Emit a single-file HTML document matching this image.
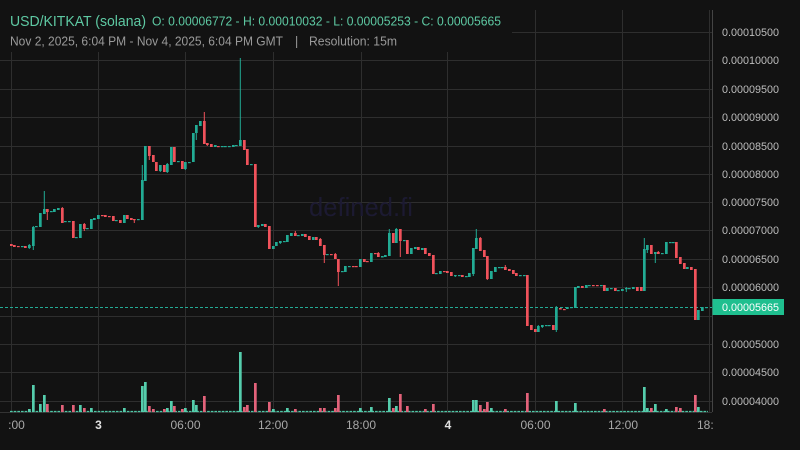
<!DOCTYPE html>
<html><head><meta charset="utf-8"><style>
html,body{margin:0;padding:0;background:#121212;}
svg{display:block;font-family:"Liberation Sans",sans-serif;}
</style></head><body>
<svg width="800" height="450" viewBox="0 0 800 450" xmlns="http://www.w3.org/2000/svg">
<rect width="800" height="450" fill="#121212"/>
<!-- grid -->
<g stroke="#2e2e2e" stroke-width="1">
<line x1="0" y1="32.5" x2="712" y2="32.5"/><line x1="0" y1="60.5" x2="712" y2="60.5"/><line x1="0" y1="89.5" x2="712" y2="89.5"/><line x1="0" y1="117.5" x2="712" y2="117.5"/><line x1="0" y1="146.5" x2="712" y2="146.5"/><line x1="0" y1="174.5" x2="712" y2="174.5"/><line x1="0" y1="202.5" x2="712" y2="202.5"/><line x1="0" y1="230.5" x2="712" y2="230.5"/><line x1="0" y1="259.5" x2="712" y2="259.5"/><line x1="0" y1="287.5" x2="712" y2="287.5"/><line x1="0" y1="316.5" x2="712" y2="316.5"/><line x1="0" y1="344.5" x2="712" y2="344.5"/><line x1="0" y1="372.5" x2="712" y2="372.5"/><line x1="0" y1="401.5" x2="712" y2="401.5"/>
<line x1="11.5" y1="10" x2="11.5" y2="412"/><line x1="98.5" y1="10" x2="98.5" y2="412"/><line x1="185.5" y1="10" x2="185.5" y2="412"/><line x1="273.5" y1="10" x2="273.5" y2="412"/><line x1="361.5" y1="10" x2="361.5" y2="412"/><line x1="447.5" y1="10" x2="447.5" y2="412"/><line x1="535.5" y1="10" x2="535.5" y2="412"/><line x1="622.5" y1="10" x2="622.5" y2="412"/><line x1="709.5" y1="10" x2="709.5" y2="412"/>
</g>
<line x1="0" y1="412.5" x2="712" y2="412.5" stroke="#333" stroke-width="1"/>
<line x1="712.5" y1="10" x2="712.5" y2="412" stroke="#444" stroke-width="1"/>
<!-- watermark -->
<text x="309" y="216" font-size="26" fill="#1c1a32" textLength="104" lengthAdjust="spacingAndGlyphs">defined.fi</text>
<!-- volume -->
<line x1="10" y1="411.5" x2="708" y2="411.5" stroke="#4fc7a6" stroke-width="1.2" stroke-dasharray="2.7,0.95"/>
<g fill="#55cdac">
<rect x="28" y="409" width="2.7" height="3"/><rect x="32" y="385" width="2.7" height="27"/><rect x="39" y="404" width="2.7" height="8"/><rect x="43" y="395" width="2.7" height="17"/><rect x="79" y="405" width="2.7" height="7"/><rect x="90" y="408" width="2.7" height="4"/><rect x="123" y="408" width="2.7" height="4"/><rect x="141" y="386" width="2.7" height="26"/><rect x="144" y="382" width="2.7" height="30"/><rect x="166" y="408" width="2.7" height="4"/><rect x="170" y="401" width="2.7" height="11"/><rect x="184" y="408" width="2.7" height="4"/><rect x="192" y="400" width="2.7" height="12"/><rect x="195" y="405" width="2.7" height="7"/><rect x="239" y="352" width="2.7" height="60"/><rect x="272" y="409" width="2.7" height="3"/><rect x="286" y="408" width="2.7" height="4"/><rect x="359" y="408" width="2.7" height="4"/><rect x="370" y="407" width="2.7" height="5"/><rect x="388" y="398" width="2.7" height="14"/><rect x="395" y="406" width="2.7" height="6"/><rect x="472" y="400" width="2.7" height="12"/><rect x="475" y="400" width="2.7" height="12"/><rect x="490" y="408" width="2.7" height="4"/><rect x="555" y="401" width="2.7" height="11"/><rect x="574" y="403" width="2.7" height="9"/><rect x="643" y="387" width="2.7" height="25"/><rect x="646" y="408" width="2.7" height="4"/><rect x="654" y="404" width="2.7" height="8"/><rect x="665" y="409" width="2.7" height="3"/><rect x="697" y="407" width="2.7" height="5"/>
</g>
<g fill="#e3627a">
<rect x="46" y="404" width="2.7" height="8"/><rect x="61" y="405" width="2.7" height="7"/><rect x="72" y="405" width="2.7" height="7"/><rect x="83" y="408" width="2.7" height="4"/><rect x="148" y="406" width="2.7" height="6"/><rect x="152" y="409" width="2.7" height="3"/><rect x="163" y="409" width="2.7" height="3"/><rect x="173" y="406" width="2.7" height="6"/><rect x="181" y="409" width="2.7" height="3"/><rect x="203" y="396" width="2.7" height="16"/><rect x="243" y="407" width="2.7" height="5"/><rect x="246" y="405" width="2.7" height="7"/><rect x="254" y="383" width="2.7" height="29"/><rect x="268" y="402" width="2.7" height="10"/><rect x="294" y="409" width="2.7" height="3"/><rect x="319" y="408" width="2.7" height="4"/><rect x="323" y="408" width="2.7" height="4"/><rect x="334" y="408" width="2.7" height="4"/><rect x="337" y="395" width="2.7" height="17"/><rect x="392" y="408" width="2.7" height="4"/><rect x="399" y="394" width="2.7" height="18"/><rect x="406" y="406" width="2.7" height="6"/><rect x="424" y="409" width="2.7" height="3"/><rect x="432" y="404" width="2.7" height="8"/><rect x="479" y="405" width="2.7" height="7"/><rect x="483" y="409" width="2.7" height="3"/><rect x="486" y="402" width="2.7" height="10"/><rect x="504" y="409" width="2.7" height="3"/><rect x="526" y="393" width="2.7" height="19"/><rect x="603" y="409" width="2.7" height="3"/><rect x="650" y="408" width="2.7" height="4"/><rect x="675" y="407" width="2.7" height="5"/><rect x="679" y="408" width="2.7" height="4"/><rect x="694" y="395" width="2.7" height="17"/>
</g>
<!-- current price line -->
<line x1="0" y1="307.5" x2="712" y2="307.5" stroke="#22ab94" stroke-width="1" stroke-dasharray="3,2"/>
<!-- wicks -->
<path stroke="#22ab94" stroke-width="1" fill="none" d="M29.3 244V249M33.3 226V250M44.3 191V214M142.3 165V220M160.3 165V172M167.3 163V173M185.3 162V170M196.3 125V140M240.3 58V146M258.3 225V228M280.3 241V244M389.3 229V256M396.3 228V243M455.3 275V277M473.3 248V276M476.3 229V249M538.3 325V332M542.3 325V328M556.3 306V332M626.3 287V292M644.3 238V291M647.3 245V253M655.3 252V263"/>
<path stroke="#f0525b" stroke-width="1" fill="none" d="M47.3 209V220M62.3 207V223M84.3 223V231M134.3 219V223M149.3 146V160M204.3 112V144M207.3 143V146M295.3 231V236M320.3 238V246M324.3 245V263M335.3 253V259M338.3 259V286M378.3 252V257M400.3 229V257M480.3 237V251M487.3 256V280M505.3 265V270M527.3 275V326M658.3 251V254"/>
<!-- teal bodies -->
<g fill="#22ab94">
<rect x="21" y="246" width="2.7" height="1.2"/><rect x="28" y="245" width="2.7" height="3"/><rect x="32" y="227" width="2.7" height="19"/><rect x="35" y="226" width="2.7" height="1.2"/><rect x="39" y="213" width="2.7" height="14"/><rect x="43" y="209" width="2.7" height="5"/><rect x="50" y="211" width="2.7" height="1.2"/><rect x="53" y="209" width="2.7" height="3"/><rect x="57" y="208" width="2.7" height="2"/><rect x="64" y="221" width="2.7" height="1.2"/><rect x="68" y="221" width="2.7" height="1.2"/><rect x="75" y="237" width="2.7" height="1.2"/><rect x="79" y="224" width="2.7" height="14"/><rect x="86" y="228" width="2.7" height="1.2"/><rect x="90" y="219" width="2.7" height="10"/><rect x="93" y="218" width="2.7" height="2"/><rect x="97" y="215" width="2.7" height="4"/><rect x="115" y="220" width="2.7" height="1.2"/><rect x="123" y="215" width="2.7" height="8"/><rect x="137" y="219" width="2.7" height="1.2"/><rect x="141" y="180" width="2.7" height="40"/><rect x="144" y="146" width="2.7" height="35"/><rect x="159" y="165" width="2.7" height="6"/><rect x="166" y="164" width="2.7" height="8"/><rect x="170" y="147" width="2.7" height="18"/><rect x="177" y="161" width="2.7" height="1.2"/><rect x="184" y="162" width="2.7" height="7"/><rect x="188" y="162" width="2.7" height="1.2"/><rect x="192" y="133" width="2.7" height="29"/><rect x="195" y="125" width="2.7" height="8"/><rect x="199" y="121" width="2.7" height="5"/><rect x="214" y="145" width="2.7" height="2"/><rect x="221" y="146" width="2.7" height="1.2"/><rect x="224" y="146" width="2.7" height="1.2"/><rect x="228" y="146" width="2.7" height="1.2"/><rect x="232" y="145" width="2.7" height="2"/><rect x="235" y="145" width="2.7" height="1.2"/><rect x="239" y="140" width="2.7" height="6"/><rect x="250" y="164" width="2.7" height="1.2"/><rect x="257" y="225" width="2.7" height="2"/><rect x="261" y="224" width="2.7" height="2"/><rect x="272" y="246" width="2.7" height="3"/><rect x="275" y="242" width="2.7" height="4"/><rect x="279" y="241" width="2.7" height="2"/><rect x="283" y="241" width="2.7" height="1.2"/><rect x="286" y="235" width="2.7" height="7"/><rect x="290" y="233" width="2.7" height="3"/><rect x="297" y="235" width="2.7" height="1.2"/><rect x="301" y="234" width="2.7" height="2"/><rect x="312" y="237" width="2.7" height="3"/><rect x="326" y="254" width="2.7" height="1.2"/><rect x="341" y="271" width="2.7" height="1.2"/><rect x="344" y="266" width="2.7" height="6"/><rect x="348" y="266" width="2.7" height="1.2"/><rect x="359" y="259" width="2.7" height="8"/><rect x="370" y="253" width="2.7" height="9"/><rect x="381" y="256" width="2.7" height="1.5"/><rect x="384" y="255" width="2.7" height="2"/><rect x="388" y="233" width="2.7" height="23"/><rect x="395" y="229" width="2.7" height="14"/><rect x="403" y="240" width="2.7" height="1.2"/><rect x="410" y="248" width="2.7" height="6"/><rect x="414" y="247" width="2.7" height="2"/><rect x="421" y="248" width="2.7" height="2"/><rect x="435" y="273" width="2.7" height="1.2"/><rect x="439" y="271" width="2.7" height="3"/><rect x="454" y="275" width="2.7" height="1.2"/><rect x="458" y="275" width="2.7" height="1.2"/><rect x="465" y="276" width="2.7" height="1.2"/><rect x="468" y="273" width="2.7" height="4"/><rect x="472" y="248" width="2.7" height="26"/><rect x="475" y="238" width="2.7" height="11"/><rect x="490" y="271" width="2.7" height="8"/><rect x="494" y="267" width="2.7" height="5"/><rect x="498" y="267" width="2.7" height="1.2"/><rect x="501" y="267" width="2.7" height="1.2"/><rect x="519" y="275" width="2.7" height="1.2"/><rect x="523" y="275" width="2.7" height="1.2"/><rect x="537" y="326" width="2.7" height="6"/><rect x="541" y="325" width="2.7" height="2"/><rect x="545" y="325" width="2.7" height="1.2"/><rect x="548" y="325" width="2.7" height="1.2"/><rect x="555" y="308" width="2.7" height="22"/><rect x="566" y="307" width="2.7" height="2"/><rect x="570" y="307" width="2.7" height="1.2"/><rect x="574" y="287" width="2.7" height="21"/><rect x="577" y="286" width="2.7" height="2"/><rect x="585" y="285" width="2.7" height="3"/><rect x="588" y="285" width="2.7" height="1.2"/><rect x="600" y="285" width="2.7" height="1.2"/><rect x="606" y="288" width="2.7" height="3"/><rect x="610" y="288" width="2.7" height="1.2"/><rect x="617" y="290" width="2.7" height="1.2"/><rect x="621" y="289" width="2.7" height="2"/><rect x="625" y="288" width="2.7" height="1.2"/><rect x="628" y="288" width="2.7" height="1.2"/><rect x="632" y="287" width="2.7" height="2"/><rect x="643" y="249" width="2.7" height="42"/><rect x="646" y="245" width="2.7" height="5"/><rect x="654" y="252" width="2.7" height="2"/><rect x="661" y="253" width="2.7" height="1.2"/><rect x="665" y="242" width="2.7" height="12"/><rect x="669" y="242" width="2.7" height="1.2"/><rect x="672" y="242" width="2.7" height="1.2"/><rect x="686" y="267" width="2.7" height="2"/><rect x="697" y="310" width="2.7" height="10"/><rect x="701" y="307" width="2.7" height="4"/><rect x="705" y="307" width="2.7" height="1.2"/>
</g>
<!-- red bodies -->
<g fill="#f0525b">
<rect x="10" y="244" width="2.7" height="2"/><rect x="13" y="245" width="2.7" height="2"/><rect x="17" y="246" width="2.7" height="1.2"/><rect x="24" y="246" width="2.7" height="2"/><rect x="46" y="209" width="2.7" height="3"/><rect x="61" y="208" width="2.7" height="15"/><rect x="72" y="221" width="2.7" height="17"/><rect x="83" y="224" width="2.7" height="5"/><rect x="101" y="215" width="2.7" height="1.2"/><rect x="104" y="215" width="2.7" height="2"/><rect x="108" y="216" width="2.7" height="1.2"/><rect x="112" y="216" width="2.7" height="5"/><rect x="119" y="220" width="2.7" height="3"/><rect x="126" y="215" width="2.7" height="4"/><rect x="130" y="218" width="2.7" height="2"/><rect x="133" y="219" width="2.7" height="1.2"/><rect x="148" y="146" width="2.7" height="10"/><rect x="152" y="155" width="2.7" height="7"/><rect x="155" y="162" width="2.7" height="9"/><rect x="163" y="165" width="2.7" height="7"/><rect x="173" y="147" width="2.7" height="15"/><rect x="181" y="161" width="2.7" height="8"/><rect x="203" y="121" width="2.7" height="23"/><rect x="206" y="143" width="2.7" height="2"/><rect x="210" y="144" width="2.7" height="3"/><rect x="217" y="146" width="2.7" height="1.2"/><rect x="243" y="140" width="2.7" height="10"/><rect x="246" y="149" width="2.7" height="16"/><rect x="254" y="164" width="2.7" height="63"/><rect x="264" y="224" width="2.7" height="3"/><rect x="268" y="226" width="2.7" height="23"/><rect x="294" y="233" width="2.7" height="3"/><rect x="304" y="234" width="2.7" height="3"/><rect x="308" y="236" width="2.7" height="4"/><rect x="315" y="237" width="2.7" height="3"/><rect x="319" y="239" width="2.7" height="7"/><rect x="323" y="245" width="2.7" height="10"/><rect x="330" y="254" width="2.7" height="1.2"/><rect x="334" y="254" width="2.7" height="5"/><rect x="337" y="259" width="2.7" height="13"/><rect x="352" y="266" width="2.7" height="1.2"/><rect x="355" y="266" width="2.7" height="1.2"/><rect x="363" y="259" width="2.7" height="3"/><rect x="366" y="261" width="2.7" height="1.2"/><rect x="374" y="253" width="2.7" height="1.2"/><rect x="377" y="253" width="2.7" height="4"/><rect x="392" y="233" width="2.7" height="10"/><rect x="399" y="229" width="2.7" height="12"/><rect x="406" y="240" width="2.7" height="14"/><rect x="417" y="247" width="2.7" height="3"/><rect x="424" y="248" width="2.7" height="6"/><rect x="428" y="253" width="2.7" height="3"/><rect x="432" y="255" width="2.7" height="19"/><rect x="443" y="271" width="2.7" height="1.2"/><rect x="446" y="271" width="2.7" height="2"/><rect x="450" y="272" width="2.7" height="4"/><rect x="461" y="275" width="2.7" height="2"/><rect x="479" y="238" width="2.7" height="13"/><rect x="483" y="250" width="2.7" height="7"/><rect x="486" y="256" width="2.7" height="23"/><rect x="504" y="267" width="2.7" height="3"/><rect x="508" y="269" width="2.7" height="2"/><rect x="512" y="270" width="2.7" height="4"/><rect x="515" y="273" width="2.7" height="3"/><rect x="526" y="275" width="2.7" height="51"/><rect x="530" y="325" width="2.7" height="5"/><rect x="534" y="329" width="2.7" height="3"/><rect x="552" y="325" width="2.7" height="5"/><rect x="559" y="308" width="2.7" height="1.5"/><rect x="563" y="309" width="2.7" height="1.2"/><rect x="581" y="286" width="2.7" height="2"/><rect x="592" y="285" width="2.7" height="1.2"/><rect x="596" y="285" width="2.7" height="1.2"/><rect x="603" y="285" width="2.7" height="6"/><rect x="614" y="288" width="2.7" height="3"/><rect x="636" y="287" width="2.7" height="4"/><rect x="640" y="287" width="2.7" height="4"/><rect x="650" y="245" width="2.7" height="9"/><rect x="657" y="252" width="2.7" height="2"/><rect x="675" y="242" width="2.7" height="16"/><rect x="679" y="257" width="2.7" height="7"/><rect x="683" y="263" width="2.7" height="6"/><rect x="690" y="267" width="2.7" height="3"/><rect x="694" y="269" width="2.7" height="51"/>
</g>
<!-- price axis labels -->
<g font-size="11" fill="#bdbdbd">
<text x="722" y="36" textLength="57" lengthAdjust="spacingAndGlyphs">0.00010500</text>
<text x="722" y="64" textLength="57" lengthAdjust="spacingAndGlyphs">0.00010000</text>
<text x="722" y="93" textLength="57" lengthAdjust="spacingAndGlyphs">0.00009500</text>
<text x="722" y="121" textLength="57" lengthAdjust="spacingAndGlyphs">0.00009000</text>
<text x="722" y="150" textLength="57" lengthAdjust="spacingAndGlyphs">0.00008500</text>
<text x="722" y="178" textLength="57" lengthAdjust="spacingAndGlyphs">0.00008000</text>
<text x="722" y="206" textLength="57" lengthAdjust="spacingAndGlyphs">0.00007500</text>
<text x="722" y="234" textLength="57" lengthAdjust="spacingAndGlyphs">0.00007000</text>
<text x="722" y="263" textLength="57" lengthAdjust="spacingAndGlyphs">0.00006500</text>
<text x="722" y="291" textLength="57" lengthAdjust="spacingAndGlyphs">0.00006000</text>
<text x="722" y="348" textLength="57" lengthAdjust="spacingAndGlyphs">0.00005000</text>
<text x="722" y="376" textLength="57" lengthAdjust="spacingAndGlyphs">0.00004500</text>
<text x="722" y="405" textLength="57" lengthAdjust="spacingAndGlyphs">0.00004000</text>
</g>
<rect x="712.5" y="299" width="71.5" height="16" fill="#1fbf8f"/>
<text x="722" y="311" font-size="11" fill="#ffffff" textLength="57" lengthAdjust="spacingAndGlyphs">0.00005665</text>
<!-- time axis -->
<g font-size="12" fill="#a8a8a8" text-anchor="middle">
<text x="16.5" y="429">:00</text>
<text x="98.5" y="429" fill="#e0e0e0" font-weight="bold">3</text>
<text x="185.5" y="429">06:00</text>
<text x="273" y="429">12:00</text>
<text x="361" y="429">18:00</text>
<text x="448" y="429" fill="#e0e0e0" font-weight="bold">4</text>
<text x="535.5" y="429">06:00</text>
<text x="623" y="429">12:00</text>
</g>
<text x="697" y="429" font-size="12" fill="#a8a8a8">18:</text>
<rect x="713" y="415" width="87" height="20" fill="#121212"/>
<!-- legend -->
<rect x="0" y="0" width="512" height="52" fill="#121212"/>
<text x="10" y="26" font-size="15" fill="#5ec9a3" textLength="136" lengthAdjust="spacingAndGlyphs">USD/KITKAT (solana)</text>
<text x="152" y="25.5" font-size="12.5" fill="#5ec9a3" textLength="349" lengthAdjust="spacingAndGlyphs">O: 0.00006772 - H: 0.00010032 - L: 0.00005253 - C: 0.00005665</text>
<text x="10" y="45.5" font-size="12.5" fill="#9a9a9a" textLength="273" lengthAdjust="spacingAndGlyphs">Nov 2, 2025, 6:04 PM - Nov 4, 2025, 6:04 PM GMT</text>
<text x="295" y="45.5" font-size="12.5" fill="#9a9a9a">|</text>
<text x="309" y="45.5" font-size="12.5" fill="#9a9a9a" textLength="88" lengthAdjust="spacingAndGlyphs">Resolution: 15m</text>
</svg>
</body></html>
